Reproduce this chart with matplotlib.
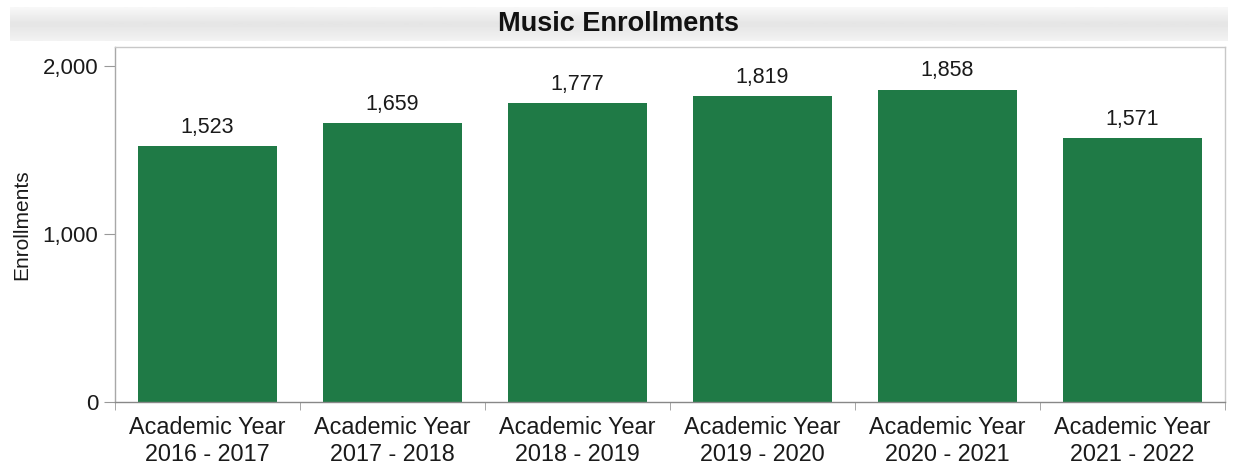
import numpy as np
import matplotlib.pyplot as plt
from matplotlib.ticker import FuncFormatter, FixedLocator

plt.rcParams['font.family'] = ['Liberation Sans', 'DejaVu Sans']

years = ["2016 - 2017", "2017 - 2018", "2018 - 2019",
         "2019 - 2020", "2020 - 2021", "2021 - 2022"]
enrollments = [1523, 1659, 1777, 1819, 1858, 1571]
y_ticks = [0, 1000, 2000]

fig = plt.figure(figsize=(12.36, 4.68), dpi=100)

# grey title band behind the heading
band = fig.add_axes([0.008, 0.912, 0.985, 0.072])
grad = np.concatenate([np.linspace(0.97, 0.90, 10), np.linspace(0.90, 0.95, 10)])
band.imshow(grad[:, None], cmap='gray', vmin=0, vmax=1, aspect='auto',
            extent=[0, 1, 0, 1])
band.axis('off')
fig.text(0.5, 0.948, "Music Enrollments", ha='center', va='center',
         fontsize=19.5, fontweight='bold', color='#111111')

ax = fig.add_axes([0.093, 0.141, 0.898, 0.759])
x = np.arange(len(years))
bars = ax.bar(x, enrollments, width=0.75, color='#1f7a46')

for b, v in zip(bars, enrollments):
    ax.text(b.get_x() + b.get_width() / 2, v + 50, f"{v:,}",
            ha='center', va='bottom', fontsize=15.5, color='#1a1a1a')

ax.set_xlim(-0.5, len(years) - 0.5)
ax.set_ylim(0, 2113)
ax.set_yticks(y_ticks)
ax.yaxis.set_major_formatter(FuncFormatter(lambda v, p: f"{int(v):,}"))
ax.set_xticks(x)
ax.set_xticklabels([f"Academic Year\n{y}" for y in years])
ax.xaxis.set_minor_locator(FixedLocator(np.arange(-0.5, len(years), 1.0)))

ax.tick_params(axis='x', which='major', length=0, pad=10, labelsize=16.8,
               colors='#1a1a1a')
ax.tick_params(axis='x', which='minor', length=6, color='#999999')
ax.tick_params(axis='y', length=8, color='#999999', labelsize=16,
               labelcolor='#1a1a1a', pad=4)
ax.set_ylabel("Enrollments", fontsize=15, color='#1a1a1a', labelpad=8)

for side in ['top', 'right']:
    ax.spines[side].set_color('#c8c8c8')
ax.spines['left'].set_color('#a8a8a8')
ax.spines['bottom'].set_color('#888888')
for s in ax.spines.values():
    s.set_linewidth(1.0)

fig.savefig("out.png", dpi=100)
